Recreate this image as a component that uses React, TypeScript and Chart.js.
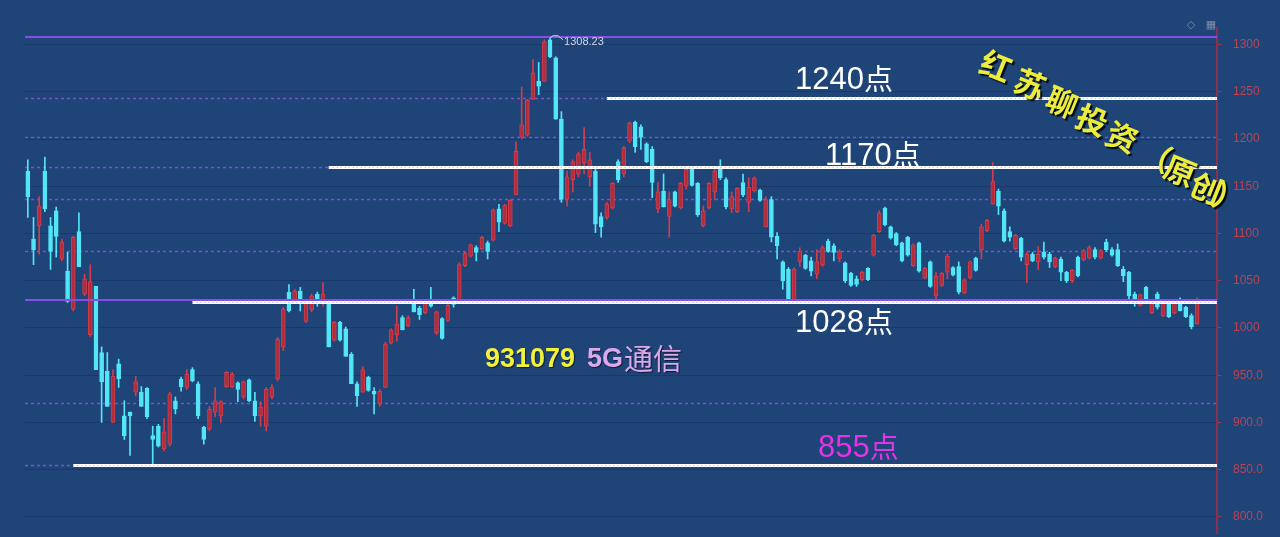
import { useEffect, useRef } from "react";
import { Chart, registerables } from "chart.js";
Chart.register(...registerables);

// ---- Data (daily K-line, 931079 5G通信) ----
const OPEN = [1166,1094,1108,1166,1108,1124,1073,1060,1020,1102,1036,993,1044,974,954,900,962,907,911,932,932,936,886,896,872,877,923,946,937,956,941,895,893,911,907,938,938,942,927,945,923,907,896,927,946,980,1038,1030,1039,1007,1019,1036,1027,1025,987,1006,999,972,941,932,948,933,920,937,984,993,1011,1002,1027,1021,1016,1028,995,1010,1008,1032,1028,1066,1076,1085,1084,1090,1093,1126,1111,1108,1141,1202,1204,1242,1261,1261,1305,1286,1221,1136,1157,1163,1175,1160,1166,1118,1117,1127,1176,1163,1198,1218,1213,1195,1189,1126,1145,1118,1144,1127,1150,1169,1153,1108,1127,1144,1170,1157,1126,1123,1154,1133,1145,1146,1107,1136,1097,1070,1062,1029,1070,1077,1071,1057,1067,1092,1087,1073,1069,1058,1052,1051,1063,1077,1102,1127,1107,1100,1090,1096,1066,1090,1053,1070,1034,1045,1059,1064,1065,1037,1053,1074,1083,1103,1131,1145,1124,1102,1084,1095,1067,1078,1070,1080,1078,1065,1073,1059,1050,1075,1072,1074,1083,1074,1091,1083,1083,1062,1059,1036,1024,1043,1016,1036,1013,1026,1016,1025,1022,1013,1004];
const HIGH = [1178,1117,1139,1181,1117,1128,1094,1080,1097,1122,1057,1067,1044,980,974,956,967,923,911,949,938,937,896,898,904,932,927,948,956,958,943,896,917,937,923,954,953,943,944,946,932,922,937,940,990,1022,1046,1041,1043,1030,1036,1038,1048,1025,1007,1007,1001,974,943,959,949,937,935,985,999,1023,1013,1013,1041,1023,1027,1043,1018,1011,1025,1033,1069,1080,1089,1087,1097,1092,1126,1131,1131,1136,1197,1255,1242,1284,1281,1305,1308.23,1287,1229,1166,1178,1186,1212,1186,1170,1122,1133,1154,1178,1192,1218,1219,1215,1196,1192,1154,1163,1144,1145,1154,1171,1170,1154,1129,1154,1171,1178,1159,1144,1149,1163,1159,1160,1147,1139,1139,1101,1071,1064,1064,1085,1078,1075,1083,1087,1094,1089,1083,1070,1059,1055,1060,1064,1099,1124,1128,1108,1101,1091,1097,1089,1091,1064,1071,1059,1059,1078,1065,1070,1052,1071,1075,1110,1115,1175,1147,1126,1107,1099,1096,1080,1080,1086,1091,1080,1075,1075,1060,1062,1076,1083,1087,1085,1083,1094,1085,1089,1065,1060,1038,1036,1044,1030,1038,1027,1027,1027,1032,1023,1015,1032];
const LOW = [1117,1067,1078,1123,1062,1075,1071,1027,1018,1065,1034,991,956,900,917,900,937,882,865,928,917,904,855,874,870,875,909,933,935,943,904,877,891,906,900,937,937,922,925,922,901,896,891,925,944,976,1017,1028,1018,1006,1017,1023,1023,980,986,986,970,941,917,932,933,909,917,937,983,986,998,1001,1017,1009,1015,1022,993,988,1007,1022,1027,1065,1075,1071,1083,1073,1092,1102,1110,1107,1141,1200,1203,1242,1247,1261,1286,1221,1133,1129,1144,1160,1163,1150,1101,1096,1115,1126,1154,1160,1196,1186,1189,1175,1138,1122,1128,1096,1128,1126,1147,1150,1118,1107,1126,1136,1157,1126,1122,1122,1139,1123,1144,1134,1107,1091,1073,1041,1028,1028,1065,1062,1055,1052,1065,1080,1071,1070,1048,1044,1044,1050,1050,1076,1101,1108,1094,1087,1070,1076,1065,1059,1052,1043,1030,1044,1052,1055,1036,1036,1052,1060,1073,1102,1131,1120,1091,1092,1083,1071,1048,1070,1062,1073,1064,1064,1050,1048,1048,1054,1071,1073,1073,1073,1081,1076,1065,1049,1030,1023,1023,1028,1015,1020,1012,1011,1015,1018,1011,999,1004];
const CLOSE = [1139,1083,1129,1126,1081,1097,1091,1028,1096,1065,1052,1049,956,943,917,949,946,886,907,943,917,906,882,875,890,930,914,938,951,944,907,882,914,923,922,953,951,935,943,923,907,916,935,937,988,1020,1018,1039,1028,1027,1034,1027,1036,980,1006,987,970,941,928,956,934,930,933,983,998,1004,998,1011,1017,1014,1026,1023,1017,989,1024,1025,1067,1079,1088,1080,1096,1081,1125,1112,1130,1135,1187,1215,1241,1270,1256,1303,1287,1221,1136,1160,1176,1184,1189,1178,1110,1107,1131,1153,1157,1191,1217,1192,1202,1176,1154,1144,1128,1136,1129,1153,1168,1151,1120,1124,1153,1166,1159,1128,1139,1148,1141,1149,1159,1135,1136,1096,1087,1050,1030,1062,1081,1063,1060,1070,1085,1081,1080,1081,1050,1045,1046,1059,1051,1098,1122,1109,1095,1088,1071,1077,1088,1060,1063,1044,1055,1058,1076,1056,1038,1051,1070,1061,1107,1114,1155,1129,1092,1096,1098,1075,1078,1071,1078,1075,1070,1074,1059,1050,1061,1055,1082,1085,1075,1082,1083,1077,1066,1055,1034,1030,1035,1029,1029,1022,1026,1012,1026,1018,1012,1001,1028];
const EMPTY_SLOTS_AFTER = 3; // blank days at the right edge
const CATEGORIES = [...OPEN.map((_, i) => "D" + (i + 1)), ...Array(EMPTY_SLOTS_AFTER).fill("")];

const Y_TICKS = [800, 850, 900, 950, 1000, 1050, 1100, 1150, 1200, 1250, 1300];
const Y_MIN = 783;
const Y_MAX = 1317.5;

// horizontal reference levels
const DASHED_LEVELS = [1243, 1202, 1170, 1136, 1082, 921, 855];
const SOLID_LEVELS = [1308.23, 1029.5];
const KEY_LEVELS = [1243, 1170, 1027.5, 855];
const KEY_START_INDEX = [102, 53, 29, 8];
const KEY_LABELS = ["1240", "1170", "1028", "855"];
const PEAK_INDEX = 92;
const PEAK_VALUE = 1308.23;

const RED = "#b02e3c";
const RED_EDGE = "#d43c4c";
const CYAN = "#52e6f6";
const BG = "#1e4478";

const overlay = {
  id: "overlay",
  beforeDatasetsDraw(chart: any) {
    const { ctx, chartArea } = chart;
    const y = chart.scales.y;
    ctx.save();
    ctx.strokeStyle = "#7b4fd6";
    ctx.lineWidth = 1.5;
    ctx.setLineDash([3, 3]);
    DASHED_LEVELS.forEach((v) => {
      const py = Math.round(y.getPixelForValue(v)) + 0.5;
      ctx.beginPath();
      ctx.moveTo(chartArea.left, py);
      ctx.lineTo(chartArea.right, py);
      ctx.stroke();
    });
    ctx.restore();
  },
  afterDatasetsDraw(chart: any) {
    const { ctx, chartArea } = chart;
    const y = chart.scales.y;
    const x = chart.scales.x;
    ctx.save();
    // solid purple lines
    ctx.strokeStyle = "#8a4ce6";
    ctx.lineWidth = 2;
    SOLID_LEVELS.forEach((v) => {
      const py = Math.round(y.getPixelForValue(v));
      ctx.beginPath();
      ctx.moveTo(chartArea.left, py);
      ctx.lineTo(chartArea.right, py);
      ctx.stroke();
    });
    // white key lines
    KEY_LEVELS.forEach((v, k) => {
      const py = Math.round(y.getPixelForValue(v)) + 0.5;
      const x0 = x.getPixelForValue(KEY_START_INDEX[k]);
      ctx.strokeStyle = "#ffffff";
      ctx.lineWidth = 3;
      ctx.setLineDash([]);
      ctx.beginPath();
      ctx.moveTo(x0, py);
      ctx.lineTo(chartArea.right, py);
      ctx.stroke();
      ctx.strokeStyle = "rgba(120,150,210,0.7)";
      ctx.lineWidth = 1;
      ctx.setLineDash([1, 3]);
      ctx.beginPath();
      ctx.moveTo(x0, py);
      ctx.lineTo(chartArea.right, py);
      ctx.stroke();
    });
    ctx.setLineDash([]);

    // peak flag
    const px = x.getPixelForValue(PEAK_INDEX);
    const py = y.getPixelForValue(PEAK_VALUE);
    ctx.strokeStyle = "#d0d8e8";
    ctx.lineWidth = 1;
    ctx.beginPath();
    ctx.moveTo(px, py + 1);
    ctx.lineTo(px + 3, py - 1);
    ctx.lineTo(px + 8, py - 1);
    ctx.lineTo(px + 13, py + 3);
    ctx.stroke();
    ctx.fillStyle = "#d0d8e8";
    ctx.font = '11px "Liberation Sans", Arial, sans-serif';
    ctx.textBaseline = "alphabetic";
    ctx.textAlign = "left";
    ctx.fillText(PEAK_VALUE.toFixed(2), px + 14, py + 8);

    // level labels
    const labelPos = [
      [795, 89, "#ffffff"],
      [825, 165, "#ffffff"],
      [795, 332, "#ffffff"],
      [818, 457, "#e632e6"],
    ] as const;
    KEY_LABELS.forEach((t, k) => {
      const [lx, ly, col] = labelPos[k];
      ctx.fillStyle = col;
      ctx.font = '31px "Liberation Sans", Arial, sans-serif';
      ctx.fillText(t, lx, ly);
      const w = ctx.measureText(t).width;
      ctx.font = '29px "Noto Sans CJK SC", sans-serif';
      ctx.fillText("点", lx + w, ly + 1);
    });

    // stock name
    ctx.shadowColor = "rgba(0,0,0,0.6)";
    ctx.shadowOffsetX = 1;
    ctx.shadowOffsetY = 1;
    ctx.shadowBlur = 1;
    ctx.fillStyle = "#f2f23a";
    ctx.font = 'bold 27px "Liberation Sans", Arial, sans-serif';
    ctx.fillText("931079", 485, 367);
    ctx.fillStyle = "#dba8ee";
    ctx.fillText("5G", 587, 367);
    const w5 = ctx.measureText("5G").width;
    ctx.font = '29px "Noto Sans CJK SC", sans-serif';
    ctx.fillText("通信", 587 + w5 + 1, 370);

    // watermark
    const wm: [string, number, number][] = [
      ["红", 996, 66], ["苏", 1030, 84], ["聊", 1062, 102], ["投", 1092, 120],
      ["资", 1122, 137], ["（", 1156, 156], ["原", 1180, 171], ["创", 1206, 188], ["）", 1229, 198],
    ];
    ctx.font = 'bold 31px "Noto Sans CJK SC", sans-serif';
    ctx.textAlign = "center";
    ctx.textBaseline = "middle";
    ctx.shadowColor = "rgba(0,0,0,0.85)";
    ctx.shadowOffsetX = 2;
    ctx.shadowOffsetY = 2;
    ctx.shadowBlur = 1;
    wm.forEach(([ch, cx, cy]) => {
      ctx.save();
      ctx.translate(cx, cy);
      ctx.rotate(0.38);
      ctx.fillStyle = "#ecec3c";
      ctx.fillText(ch, 0, 0);
      ctx.restore();
    });
    ctx.shadowColor = "transparent";

    // top-right icons
    ctx.fillStyle = "#7f8fa8";
    ctx.font = '11px "DejaVu Sans", sans-serif';
    ctx.fillText("◇", 1191, 25);
    ctx.fillText("▦", 1211, 25);
    ctx.restore();
  },
};

export default function App() {
  const ref = useRef<HTMLCanvasElement | null>(null);
  useEffect(() => {
    document.body.style.margin = "0";
    document.body.style.background = BG;
    const colors = OPEN.map((o, i) => (CLOSE[i] >= o ? RED : CYAN));
    const edges = OPEN.map((o, i) => (CLOSE[i] >= o ? RED_EDGE : CYAN));
    const chart = new Chart(ref.current as HTMLCanvasElement, {
      type: "bar",
      data: {
        labels: CATEGORIES,
        datasets: [
          {
            label: "body",
            data: OPEN.map((o, i) => [o, CLOSE[i]]) as any,
            backgroundColor: colors,
            borderColor: edges,
            borderWidth: 1,
            borderSkipped: false,
            barThickness: 4,
            grouped: false,
            order: 0,
          } as any,
          {
            label: "wick",
            data: LOW.map((l, i) => [l, HIGH[i]]) as any,
            backgroundColor: edges,
            borderWidth: 0,
            barThickness: 1,
            grouped: false,
            order: 1,
          } as any,
        ],
      },
      options: {
        responsive: false,
        animation: false,
        layout: { padding: { left: 25, top: 28, bottom: 4, right: 0 } },
        plugins: { legend: { display: false }, tooltip: { enabled: false } },
        scales: {
          x: { type: "category", offset: true, display: false, grid: { display: false } },
          y: {
            position: "right",
            min: Y_MIN,
            max: Y_MAX,
            afterBuildTicks: (s: any) => {
              s.ticks = Y_TICKS.map((v) => ({ value: v }));
            },
            afterFit: (s: any) => {
              s.width = 63;
              s.paddingTop = 0;
              s.paddingBottom = 0;
            },
            grid: { color: "#173a68", lineWidth: 1, tickColor: "#a8344c", tickLength: 4, drawTicks: true },
            border: { display: true, color: "#8c2f50", width: 2 },
            ticks: {
              color: "#bc4254",
              padding: 12,
              font: { family: '"Liberation Sans", Arial, sans-serif', size: 12 },
              callback: (v: any) => (Number(v) >= 1000 ? String(v) : Number(v).toFixed(1)),
            },
          },
        },
      },
      plugins: [overlay],
    });
    return () => chart.destroy();
  }, []);
  return (
    <div style={{ position: "absolute", left: 0, top: 0, width: 1280, height: 537, background: BG }}>
      <canvas ref={ref} width={1280} height={537} style={{ display: "block" }} />
    </div>
  );
}
